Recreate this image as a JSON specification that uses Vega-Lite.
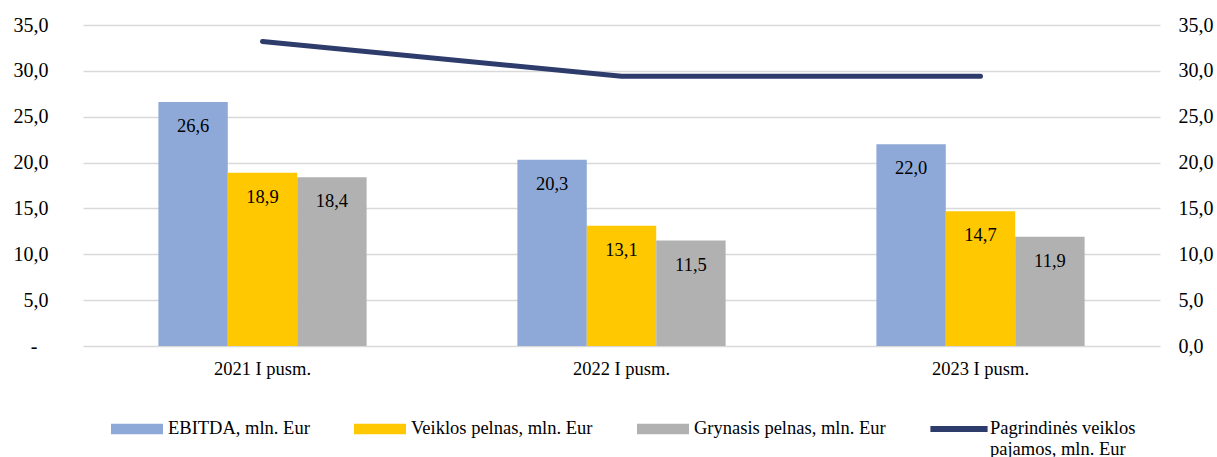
{
  "$schema": "https://vega.github.io/schema/vega-lite/v6.json",
  "width": 1077,
  "height": 321,
  "autosize": {"type": "none"},
  "padding": {"left": 83, "top": 25, "right": 57, "bottom": 111},
  "config": {
    "locale": {"number": {"decimal": ",", "thousands": " ", "grouping": [3], "currency": ["", " €"]}},
    "view": {"stroke": null},
    "font": "Liberation Serif"
  },
  "data": {
    "values": [
      {"period": "2021 I pusm.", "series": "EBITDA, mln. Eur", "value": 26.6, "kind": "bar"},
      {"period": "2021 I pusm.", "series": "Veiklos pelnas, mln. Eur", "value": 18.9, "kind": "bar"},
      {"period": "2021 I pusm.", "series": "Grynasis pelnas, mln. Eur", "value": 18.4, "kind": "bar"},
      {"period": "2022 I pusm.", "series": "EBITDA, mln. Eur", "value": 20.3, "kind": "bar"},
      {"period": "2022 I pusm.", "series": "Veiklos pelnas, mln. Eur", "value": 13.1, "kind": "bar"},
      {"period": "2022 I pusm.", "series": "Grynasis pelnas, mln. Eur", "value": 11.5, "kind": "bar"},
      {"period": "2023 I pusm.", "series": "EBITDA, mln. Eur", "value": 22.0, "kind": "bar"},
      {"period": "2023 I pusm.", "series": "Veiklos pelnas, mln. Eur", "value": 14.7, "kind": "bar"},
      {"period": "2023 I pusm.", "series": "Grynasis pelnas, mln. Eur", "value": 11.9, "kind": "bar"},
      {"period": "2021 I pusm.", "series": "Pagrindinės veiklos pajamos, mln. Eur", "value": 33.2, "kind": "line"},
      {"period": "2022 I pusm.", "series": "Pagrindinės veiklos pajamos, mln. Eur", "value": 29.4, "kind": "line"},
      {"period": "2023 I pusm.", "series": "Pagrindinės veiklos pajamos, mln. Eur", "value": 29.4, "kind": "line"}
    ]
  },
  "encoding": {
    "x": {
      "field": "period", "type": "nominal", "sort": null,
      "scale": {"paddingInner": 0.42, "paddingOuter": 0.21},
      "axis": {"title": null, "labelAngle": 0, "domain": false, "ticks": false, "labelPadding": 13, "labelFontSize": 18.5, "labelFont": "Liberation Serif", "labelColor": "#000"}
    }
  },
  "layer": [
    {
      "transform": [{"filter": "datum.kind == 'bar'"}],
      "encoding": {
        "y": {
          "field": "value", "type": "quantitative",
          "scale": {"domain": [0, 35]},
          "axis": {"title": null, "values": [0, 5, 10, 15, 20, 25, 30, 35], "format": ".1f", "labelExpr": "datum.value == 0 ? '-' : datum.label", "domain": false, "ticks": false,
            "labelPadding": {"condition": {"test": "datum.value == 0", "value": 46}, "value": 35},
            "labelFontSize": 20, "labelFont": "Liberation Serif", "labelColor": "#000", "gridColor": "#d9d9d9", "gridWidth": 1.5}
        },
        "xOffset": {"field": "series", "sort": ["EBITDA, mln. Eur", "Veiklos pelnas, mln. Eur", "Grynasis pelnas, mln. Eur"]}
      },
      "layer": [
        {
          "mark": {"type": "bar"},
          "encoding": {
            "color": {
              "field": "series", "type": "nominal",
              "scale": {
                "domain": ["EBITDA, mln. Eur", "Veiklos pelnas, mln. Eur", "Grynasis pelnas, mln. Eur", "Pagrindinės veiklos pajamos, mln. Eur"],
                "range": ["#8EA9D8", "#FFC800", "#B1B1B1", "#2E3C6C"]
              },
              "legend": {
                "orient": "none", "legendX": 28, "legendY": 378,
                "direction": "horizontal", "columns": 4, "columnPadding": 44,
                "title": null, "padding": 0,
                "symbolSize": 2704, "symbolStrokeWidth": 0,
                "labelFontSize": 18.5, "labelFont": "Liberation Serif", "labelColor": "#000",
                "labelOffset": 5, "labelLimit": 400,
                "labelExpr": "datum.label == 'Pagrindinės veiklos pajamos, mln. Eur' ? ['Pagrindinės veiklos', 'pajamos, mln. Eur'] : [datum.label, ' ']",
                "encode": {
                  "symbols": {"update": {
                    "shape": {"signal": "datum.value == 'Pagrindinės veiklos pajamos, mln. Eur' ? 'M-1.1,-0.115H1.1V0.115H-1.1Z' : 'M-1,-0.205H1V0.205H-1Z'"},
                    "fill": {"signal": "scale('color', datum.value)"},
                    "stroke": {"value": "transparent"},
                    "opacity": {"value": 1},
                    "fillOpacity": {"value": 1}
                  }},
                  "labels": {"update": {"baseline": {"value": "top"}, "dy": {"value": -10}}}
                }
              }
            }
          }
        },
        {
          "mark": {"type": "text", "baseline": "middle", "dy": 24, "fontSize": 18.5, "font": "Liberation Serif", "color": "#000"},
          "encoding": {
            "text": {"field": "value", "type": "quantitative", "format": ".1f"}
          }
        }
      ]
    },
    {
      "transform": [{"filter": "datum.kind == 'line'"}],
      "mark": {"type": "line", "strokeWidth": 5, "strokeCap": "round"},
      "encoding": {
        "y": {
          "field": "value", "type": "quantitative",
          "scale": {"domain": [0, 35]},
          "axis": {"orient": "right", "title": null, "values": [0, 5, 10, 15, 20, 25, 30, 35], "format": ".1f", "grid": false, "domain": false, "ticks": false, "labelPadding": 18, "labelFontSize": 20, "labelFont": "Liberation Serif", "labelColor": "#000"}
        },
        "color": {"field": "series", "type": "nominal"}
      }
    }
  ],
  "resolve": {"scale": {"y": "independent"}}
}
